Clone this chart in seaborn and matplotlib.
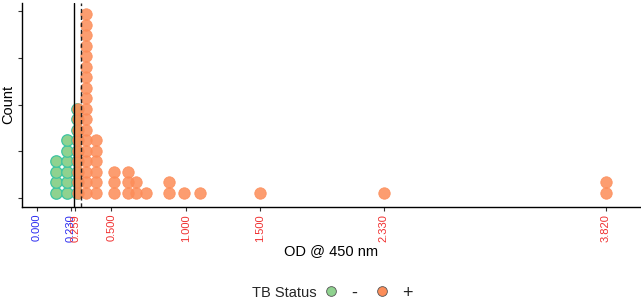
import numpy as np
import pandas as pd
import matplotlib
matplotlib.use("Agg")
import matplotlib.pyplot as plt
from matplotlib.lines import Line2D
import seaborn as sns

# ---- data (bin centres in OD units and number of samples per bin) ----
neg_od = [0.130, 0.203, 0.270]
neg_count = [4, 6, 9]
pos_od = [0.276, 0.334, 0.398, 0.519, 0.613, 0.666, 0.733, 0.888, 0.989, 1.096, 1.499, 2.331, 3.820]
pos_count = [9, 18, 6, 3, 3, 2, 1, 2, 1, 1, 1, 1, 2]

tick_vals = [0.000, 0.230, 0.259, 0.500, 1.000, 1.500, 2.330, 3.820]
tick_labels = ["0.000", "0.230", "0.259", "0.500", "1.000", "1.500", "2.330", "3.820"]
tick_colors = ["#2b2bf0", "#2b2bf0", "#f03030", "#f03030", "#f03030", "#f03030", "#f03030", "#f03030"]
cutoff_solid = 0.250
cutoff_dashed = 0.294

DOT_H = 0.0562  # stacking step in count units (dot diameter)

rows = []
for status, ods, counts in (("-", neg_od, neg_count), ("+", pos_od, pos_count)):
    for od, c in zip(ods, counts):
        for k in range(c):
            rows.append({"OD": od, "y": (k + 0.5) * DOT_H, "status": status})
df = pd.DataFrame(rows)

sns.set_theme(style="white")
plt.rcParams['font.family'] = ['Liberation Sans', 'DejaVu Sans']

fig = plt.figure(figsize=(6.41, 3.01), dpi=100)
ax = fig.add_axes([22/641, 94/301, 618/641, 204/301])

green_fill, green_edge = "#8fd28f", "#3ec4a2"
orange_fill = "#fc8d59"

sns.scatterplot(data=df[df.status == "-"], x="OD", y="y", ax=ax, s=68,
                color=green_fill, edgecolor=green_edge, linewidth=0.9, legend=False, zorder=3)
sns.scatterplot(data=df[df.status == "+"], x="OD", y="y", ax=ax, s=68,
                color=orange_fill, edgecolor=orange_fill, linewidth=0.6, alpha=0.86,
                legend=False, zorder=4)

ax.axvline(cutoff_solid, color="black", lw=1.0, zorder=5)
ax.axvline(cutoff_dashed, color="#222222", lw=1.0, ls=(0, (3, 2)), zorder=5)

ax.set_xlim(-0.099, 4.05)
ax.set_ylim(-0.048, 1.043)
ax.set_yticks([0, 0.25, 0.5, 0.75, 1.0])
ax.set_yticklabels([])
ax.set_xticks(tick_vals)
ax.set_xticklabels(tick_labels, rotation=90, fontsize=8)
for lbl, c in zip(ax.get_xticklabels(), tick_colors):
    lbl.set_color(c)
ax.tick_params(axis="both", direction="out", length=3, width=0.8, color="#333333",
               bottom=True, left=True, pad=2)

for s in ("top", "right"):
    ax.spines[s].set_visible(False)
for s in ("left", "bottom"):
    ax.spines[s].set_color("black")
    ax.spines[s].set_linewidth(1.0)

ax.set_xlabel("OD @ 450 nm", fontsize=10.5, color="black")
ax.xaxis.set_label_coords(0.5, (207 - 251) / 204)
ax.xaxis.label.set_va("center")
ax.set_ylabel("Count", fontsize=10.5, color="black")
ax.yaxis.set_label_coords((8 - 22) / 618, 0.505)
ax.yaxis.label.set_va("center")

# legend
fig.text(252/641, 1 - 293/301, "TB Status", fontsize=10.5, va="center", ha="left")
handles = [
    Line2D([], [], marker="o", ls="", markersize=7, markerfacecolor=green_fill,
           markeredgecolor="#555555", markeredgewidth=0.6, label="-"),
    Line2D([], [], marker="o", ls="", markersize=7, markerfacecolor=orange_fill,
           markeredgecolor="#555555", markeredgewidth=0.6, label="+"),
]
fig.legend(handles=handles, loc="center left", bbox_to_anchor=(322/641, 1 - 293/301),
           ncol=2, frameon=False, fontsize=13, handletextpad=0.6, columnspacing=0.9,
           handlelength=1.0, borderpad=0, borderaxespad=0)

fig.savefig("out.png", dpi=100)
